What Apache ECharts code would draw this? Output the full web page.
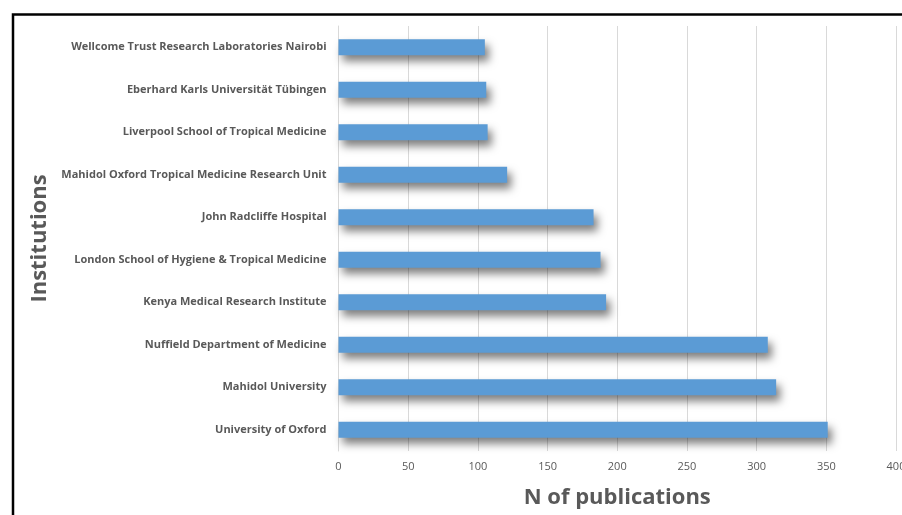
<!DOCTYPE html>
<html>
<head>
<meta charset="utf-8">
<script src="https://cdn.jsdelivr.net/npm/echarts@6/dist/echarts.min.js"></script>
<style>
  html, body { margin: 0; padding: 0; background: #fff; }
  #chart { width: 902px; height: 515px; }
</style>
</head>
<body>
<div id="chart"></div>
<script>
// top to bottom, as in the picture
const institutions = [
  "Wellcome Trust Research Laboratories Nairobi",
  "Eberhard Karls Universität Tübingen",
  "Liverpool School of Tropical Medicine",
  "Mahidol Oxford Tropical Medicine Research Unit",
  "John Radcliffe Hospital",
  "London School of Hygiene & Tropical Medicine",
  "Kenya Medical Research Institute",
  "Nuffield Department of Medicine",
  "Mahidol University",
  "University of Oxford",
]
const publications = [105, 106, 107, 121, 183, 188, 192, 308, 314, 351]

const xMin = 0
const xMax = 400
const xStep = 50

const labelColor = "#595959"
const font = "'Open Sans', sans-serif"

var chartDom = document.getElementById("chart")
var myChart = echarts.init(chartDom)

var option = {
  animation: false,
  backgroundColor: "#fff",
  grid: {
    left: 338.5,
    right: 6,
    top: 26,
    bottom: 64,
    containLabel: false,
    outerBoundsMode: "none",
  },
  graphic: [
    {
      type: "rect",
      shape: { x: 13, y: 14.5, width: 1000, height: 600 },
      style: { fill: "none", stroke: "#000", lineWidth: 2.5 },
      silent: true,
    },
  ],
  xAxis: {
    type: "value",
    min: xMin,
    max: xMax,
    interval: xStep,
    name: "N of publications",
    nameLocation: "middle",
    nameGap: 36,
    nameTextStyle: { color: labelColor, fontSize: 22, fontWeight: "bold", fontFamily: font },
    axisLine: { show: false },
    axisTick: { show: false },
    axisLabel: { color: labelColor, fontSize: 11, fontFamily: font, margin: 10 },
    splitLine: { lineStyle: { color: "#d9d9d9", width: 1 } },
  },
  yAxis: {
    type: "category",
    data: institutions,
    inverse: true,
    name: "Institutions",
    nameLocation: "middle",
    nameGap: 281,
    nameTextStyle: { color: labelColor, fontSize: 22, fontWeight: "bold", fontFamily: font },
    axisLine: { show: true, lineStyle: { color: "#d9d9d9" } },
    axisTick: { show: false },
    axisLabel: { color: labelColor, fontSize: 11, fontWeight: "bold", fontFamily: font, margin: 12 },
  },
  series: [
    {
      type: "bar",
      data: publications,
      barWidth: 16,
      itemStyle: {
        color: "#5b9bd5",
        shadowColor: "rgba(0,0,0,0.5)",
        shadowBlur: 9,
        shadowOffsetX: 4,
        shadowOffsetY: 6,
      },
    },
  ],
}
option && myChart.setOption(option)
</script>
</body>
</html>
